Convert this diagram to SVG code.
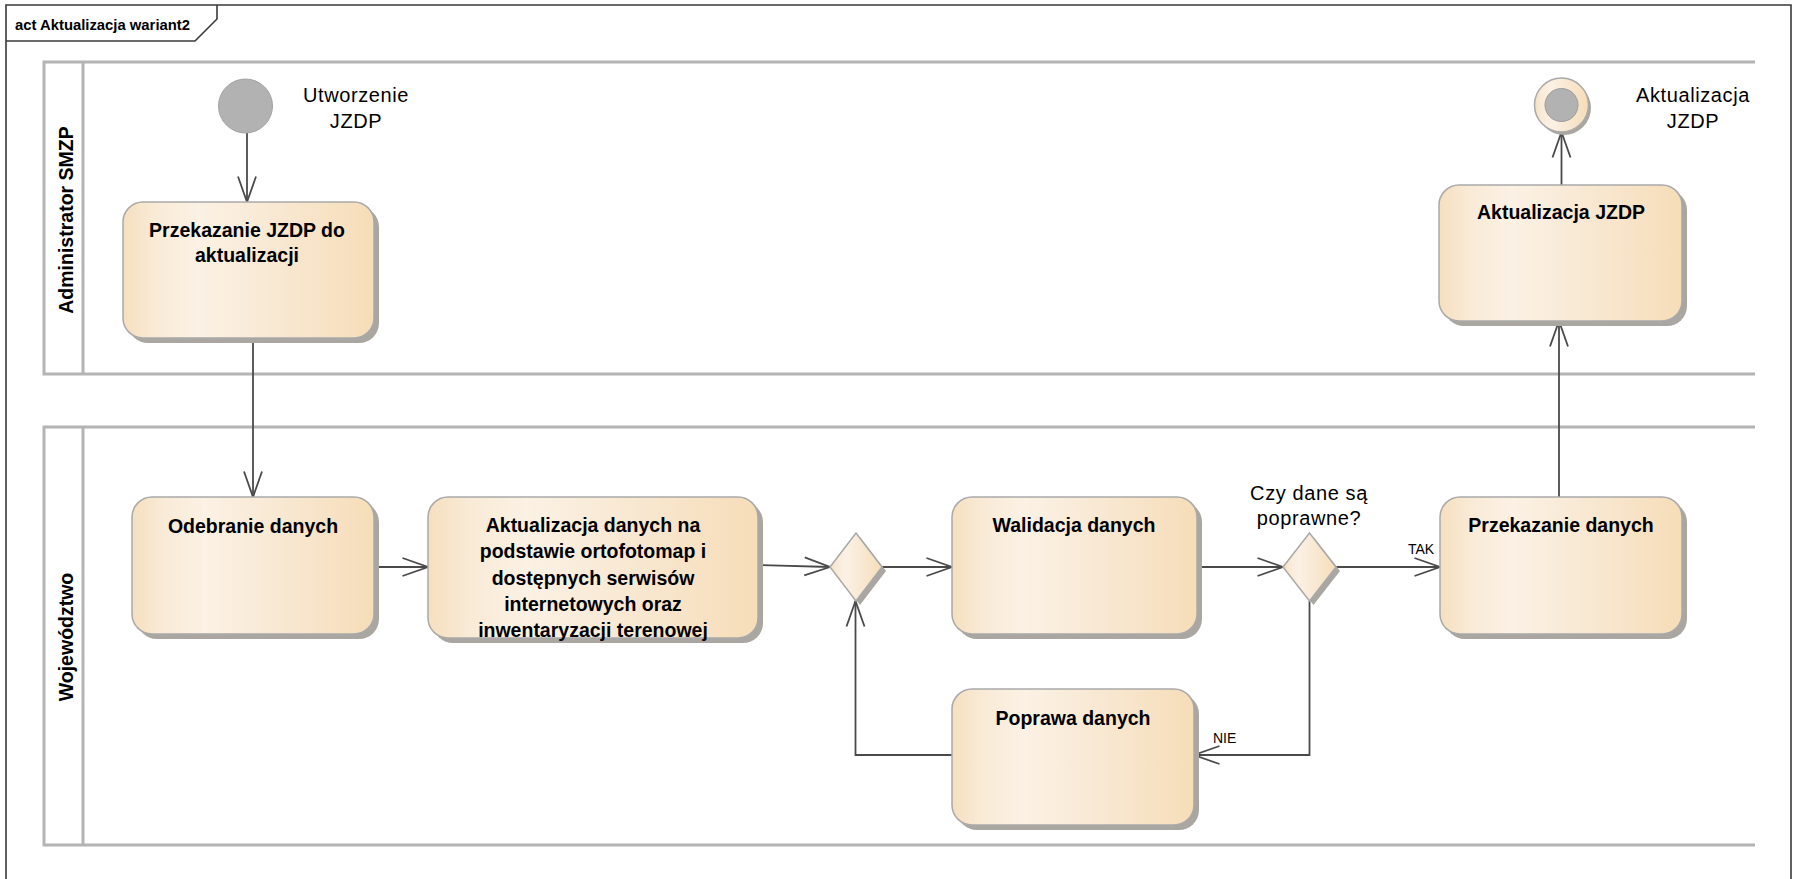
<svg xmlns="http://www.w3.org/2000/svg" width="1799" height="879" viewBox="0 0 1799 879">
  <defs>
    <linearGradient id="fillAction" x1="0" y1="0" x2="1" y2="0">
      <stop offset="0" stop-color="#f5dfbe"/>
      <stop offset="0.12" stop-color="#f9ead6"/>
      <stop offset="0.3" stop-color="#fbf1e4"/>
      <stop offset="0.65" stop-color="#f8e7d0"/>
      <stop offset="1" stop-color="#f6ddb8"/>
    </linearGradient>
    <marker id="openArrow" markerUnits="userSpaceOnUse" markerWidth="28" markerHeight="20" refX="26" refY="9.5" orient="auto" overflow="visible">
      <path d="M0.5,0.5 L26,9.5 L0.5,18.5" fill="none" stroke="#4a4a4a" stroke-width="1.8"/>
    </marker>
  </defs>
  <style>
    .frame { fill: none; stroke: #3a3a3a; stroke-width: 1.6; }
    .lane { fill: none; stroke: #b4b4b4; stroke-width: 3; }
    .shadow { fill: #aaa6a1; }
    .action { fill: url(#fillAction); stroke: #a9a9a9; stroke-width: 1.5; }
    .flow { fill: none; stroke: #4a4a4a; stroke-width: 1.8; marker-end: url(#openArrow); }
    .title { font-family: "Liberation Sans", Arial, sans-serif; font-weight: bold; font-size: 19.5px; fill: #000; text-anchor: middle; }
    .lane-title { font-family: "Liberation Sans", Arial, sans-serif; font-weight: bold; font-size: 19.5px; fill: #000; text-anchor: middle; }
    .note { font-family: "Liberation Sans", Arial, sans-serif; font-size: 20px; letter-spacing: 0.6px; fill: #000; text-anchor: middle; }
    .guard { font-family: "Liberation Sans", Arial, sans-serif; font-size: 14px; fill: #000; }
    .frame-title { font-family: "Liberation Sans", Arial, sans-serif; font-weight: bold; font-size: 14px; fill: #000; }
  </style>

  <rect x="0" y="0" width="1799" height="879" fill="#ffffff"/>

  <!-- diagram frame with name tab -->
  <g id="frame">
    <path class="frame" d="M6,890 V5 H1791 V890"/>
    <path class="frame" d="M6,41 H195 L217,19 V5"/>
    <text class="frame-title" x="15" y="30" textLength="175" lengthAdjust="spacingAndGlyphs">act Aktualizacja wariant2</text>
  </g>

  <!-- swimlanes -->
  <g id="lane-admin">
    <path class="lane" d="M1755,62 H44 V374 H1755 M83,62 V374"/>
    <text class="lane-title" transform="translate(73,220) rotate(-90)">Administrator SMZP</text>
  </g>
  <g id="lane-wojewodztwo">
    <path class="lane" d="M1755,427 H44 V845 H1755 M83,427 V845"/>
    <text class="lane-title" transform="translate(73,637) rotate(-90)">Województwo</text>
  </g>

  <!-- connectors -->
  <g id="connectors">
    <path class="flow" d="M247,133 V202"/>
    <path class="flow" d="M253,338 V497"/>
    <path class="flow" d="M374,567 H428"/>
    <path class="flow" d="M758,565 L830,567"/>
    <path class="flow" d="M882,567 H952"/>
    <path class="flow" d="M1197,567 H1283"/>
    <path class="flow" d="M1336,567 H1440"/>
    <path class="flow" d="M1309.5,601 V755 H1194"/>
    <path class="flow" d="M952,755 H855.5 V601"/>
    <path class="flow" d="M1559,497 V321"/>
    <path class="flow" d="M1561.5,185 V132"/>
    <text class="guard" x="1408" y="554">TAK</text>
    <text class="guard" x="1213" y="743">NIE</text>
  </g>

  <!-- initial node -->
  <g id="initial">
    <circle cx="245.5" cy="106" r="27" fill="#b2b2b2" stroke="#a3a3a3" stroke-width="1"/>
    <text class="note" x="356" y="102">Utworzenie</text>
    <text class="note" x="356" y="128">JZDP</text>
  </g>

  <g id="przekazanie-jzdp">
    <rect class="shadow" x="128" y="207" width="251" height="136" rx="20"/>
    <rect class="action" x="123" y="202" width="251" height="136" rx="20"/>
    <text class="title" x="247" y="237">Przekazanie JZDP do</text>
    <text class="title" x="247" y="262">aktualizacji</text>
  </g>

  <g id="odebranie">
    <rect class="shadow" x="137" y="502" width="242" height="137" rx="20"/>
    <rect class="action" x="132" y="497" width="242" height="137" rx="20"/>
    <text class="title" x="253" y="533">Odebranie danych</text>
  </g>

  <g id="aktualizacja-danych">
    <rect class="shadow" x="433" y="502" width="330" height="141" rx="20"/>
    <rect class="action" x="428" y="497" width="330" height="141" rx="20"/>
    <text class="title" x="593" y="532">Aktualizacja danych na</text>
    <text class="title" x="593" y="558">podstawie ortofotomap i</text>
    <text class="title" x="593" y="585">dostępnych serwisów</text>
    <text class="title" x="593" y="611">internetowych oraz</text>
    <text class="title" x="593" y="637">inwentaryzacji terenowej</text>
  </g>

  <g id="merge">
    <polygon class="shadow" points="834,571 860,537 886,571 860,605"/>
    <polygon class="action" points="830,567 856,533 882,567 856,601"/>
  </g>

  <g id="walidacja">
    <rect class="shadow" x="957" y="502" width="245" height="137" rx="20"/>
    <rect class="action" x="952" y="497" width="245" height="137" rx="20"/>
    <text class="title" x="1074" y="532">Walidacja danych</text>
  </g>

  <g id="decyzja">
    <polygon class="shadow" points="1287,571 1313.5,537 1340,571 1313.5,605"/>
    <polygon class="action" points="1283,567 1309.5,533 1336,567 1309.5,601"/>
    <text class="note" x="1309" y="500">Czy dane są</text>
    <text class="note" x="1309" y="525">poprawne?</text>
  </g>

  <g id="poprawa">
    <rect class="shadow" x="957" y="694" width="242" height="136" rx="20"/>
    <rect class="action" x="952" y="689" width="242" height="136" rx="20"/>
    <text class="title" x="1073" y="725">Poprawa danych</text>
  </g>

  <g id="przekazanie-danych">
    <rect class="shadow" x="1445" y="502" width="242" height="137" rx="20"/>
    <rect class="action" x="1440" y="497" width="242" height="137" rx="20"/>
    <text class="title" x="1561" y="532">Przekazanie danych</text>
  </g>

  <g id="aktualizacja-jzdp">
    <rect class="shadow" x="1444" y="190" width="243" height="136" rx="20"/>
    <rect class="action" x="1439" y="185" width="243" height="136" rx="20"/>
    <text class="title" x="1561" y="219">Aktualizacja JZDP</text>
  </g>

  <!-- final node -->
  <g id="final">
    <circle cx="1564" cy="108" r="27" fill="#aaa6a1"/>
    <circle class="action" cx="1561.5" cy="105" r="27"/>
    <circle cx="1561.5" cy="105" r="16.5" fill="#b2b2b2" stroke="#9c9c9c" stroke-width="1"/>
    <text class="note" x="1693" y="102">Aktualizacja</text>
    <text class="note" x="1693" y="128">JZDP</text>
  </g>
</svg>
